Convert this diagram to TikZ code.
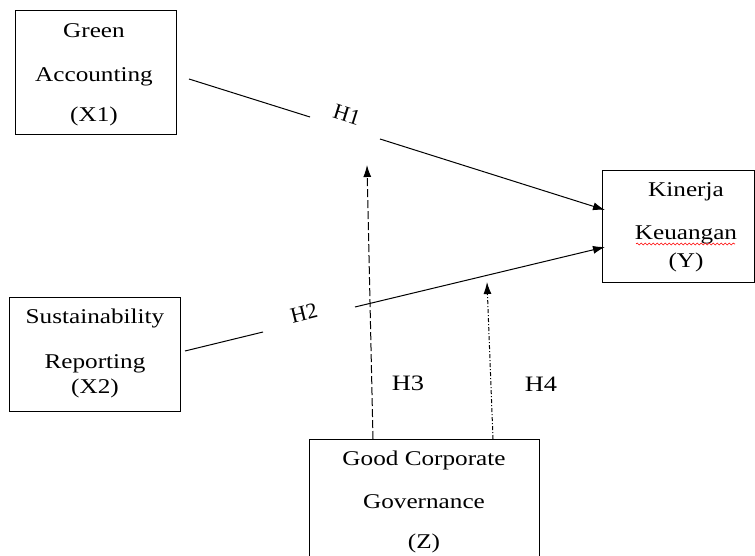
\documentclass[tikz,border=0pt]{standalone}
\usepackage{fontspec}
\setmainfont{Liberation Serif}
\usepackage{graphicx}
\usetikzlibrary{arrows.meta,decorations.pathmorphing}

\newcommand{\wtxt}[1]{\scalebox{1.2}[1]{#1}}

\begin{document}
\begin{tikzpicture}[x=1pt,y=-1pt,
    varbox/.style={draw, line width=1pt, inner sep=0pt},
    vtext/.style={anchor=base, inner sep=0pt, font=\fontsize{21}{25}\selectfont},
    hlabel/.style={inner sep=0pt, font=\fontsize{22}{25}\selectfont},
    link/.style={line width=1pt},
    tip/.style={-{Latex[length=12pt,width=8pt]}}]
  \clip (0,0) rectangle (755,556);
  \fill[white] (0,0) rectangle (755,556);
  % boxes
  \node[varbox, minimum width=161, minimum height=124] (x1) at (95.5,73) {};
  \node[varbox, minimum width=171, minimum height=114] (x2) at (94.5,354) {};
  \node[varbox, minimum width=152, minimum height=111] (y) at (678.5,226.5) {};
  \node[varbox, minimum width=230, minimum height=140] (z) at (424,509) {};
  % box texts
  \node[vtext] (x1a) at (94,38) {\wtxt{Green}};
  \node[vtext] (x1b) at (94,82) {\wtxt{Accounting}};
  \node[vtext] (x1c) at (94,122) {\wtxt{(X1)}};
  \node[vtext] (x2a) at (95,323) {\wtxt{Sustainability}};
  \node[vtext] (x2b) at (95,368) {\wtxt{Reporting}};
  \node[vtext] (x2c) at (95,393) {\wtxt{(X2)}};
  \node[vtext] (ya) at (686,197) {\wtxt{Kinerja}};
  \node[vtext] (yb) at (686,240) {\wtxt{Keuangan}};
  \node[vtext] (yc) at (686,267) {\wtxt{(Y)}};
  \node[vtext] (za) at (424,465) {\wtxt{Good Corporate}};
  \node[vtext] (zb) at (424,508) {\wtxt{Governance}};
  \node[vtext] (zc) at (424,548) {\wtxt{(Z)}};
  \draw[red, line width=0.6pt, decorate,
    decoration={snake, amplitude=1pt, segment length=4pt}] (636,244) -- (735,244);
  % hypothesis labels
  \node[hlabel, rotate=-17.5] (h1) at (347,115) {H1};
  \node[hlabel, rotate=14] (h2) at (304,313) {H2};
  \node[hlabel, anchor=base] (h3) at (408,390) {\wtxt{H3}};
  \node[hlabel, anchor=base] (h4) at (541,391) {\wtxt{H4}};
  % connector ends
  \coordinate (h1s) at (189,79);
  \coordinate (h1m) at (310,117);
  \coordinate (h1n) at (380,139);
  \coordinate (h1e) at (605,210);
  \coordinate (h2s) at (185,351);
  \coordinate (h2m) at (263,332);
  \coordinate (h2n) at (355,307);
  \coordinate (h2e) at (605,247);
  \coordinate (h3s) at (373,439);
  \coordinate (h3e) at (367,165);
  \coordinate (h4s) at (493,439);
  \coordinate (h4e) at (487,282);
  % connectors
  \draw[link] (h1s) -- (h1m);
  \draw[link, tip] (h1n) -- (h1e);
  \draw[link] (h2s) -- (h2m);
  \draw[link, tip] (h2n) -- (h2e);
  \draw[link, tip, dash pattern=on 8pt off 3pt] (h3s) -- (h3e);
  \draw[link, tip, dash pattern=on 4pt off 2pt on 1pt off 2pt] (h4s) -- (h4e);
\end{tikzpicture}
\end{document}
